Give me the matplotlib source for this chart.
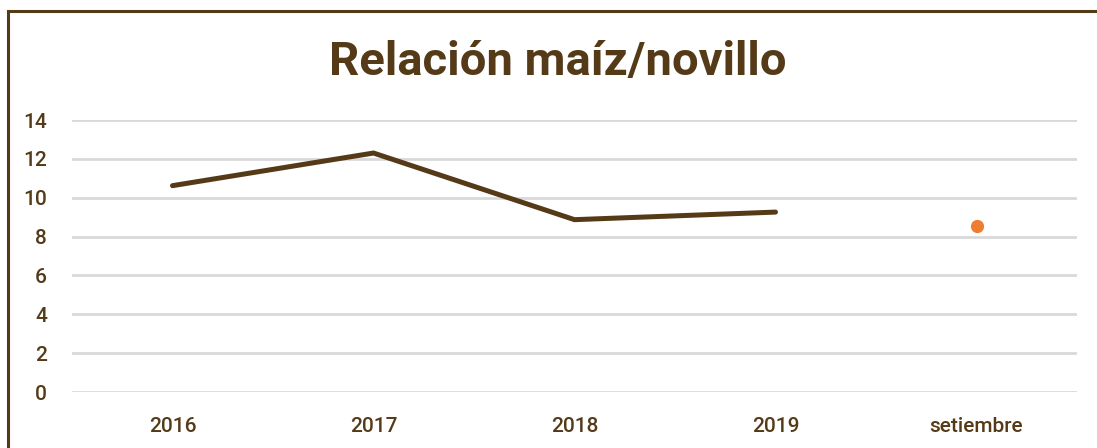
import matplotlib.pyplot as plt
import matplotlib.patches as mpatches
import numpy as np

categories = ['2016', '2017', '2018', '2019', 'setiembre']
annual = [10.62, 12.3, 8.87, 9.26]
setiembre = [8.52]

brown = '#553a18'
orange = '#ed7d31'
grid = '#d9d9d9'

plt.rcParams['font.family'] = ['Roboto', 'DejaVu Sans']

fig = plt.figure(figsize=(10.97, 4.48), dpi=100)
ax = fig.add_axes([72/1097, 1 - 392/448, 1005/1097, (392 - 120)/448])

x = np.arange(len(categories))
ax.plot(x[:len(annual)], annual, color=brown, lw=3.6, solid_capstyle='round',
        solid_joinstyle='miter', clip_on=False, zorder=3)
ax.plot(x[len(annual):], setiembre, 'o', color=orange, ms=8.5, clip_on=False, zorder=3)

ax.set_xlim(-0.5, len(categories) - 0.5)
ax.set_ylim(0, 14)
ax.set_yticks(range(0, 15, 2))
ax.set_xticks(x)
ax.set_xticklabels(categories)
ax.yaxis.grid(True, color=grid, lw=2)
ax.set_axisbelow(True)
for s in ax.spines.values():
    s.set_visible(False)
ax.tick_params(length=0, colors=brown, labelsize=15)
ax.tick_params(axis='y', pad=18)
ax.tick_params(axis='x', pad=18)
for lab in ax.get_xticklabels() + ax.get_yticklabels():
    lab.set_fontweight('medium')

fig.text(558/1097, 1 - 62/448, 'Relación maíz/novillo', ha='center', va='center',
         fontsize=34, fontweight='bold', color=brown)

border = mpatches.Rectangle((8/1097, -0.1), 1.2, 1 - 11/448 + 0.1, transform=fig.transFigure,
                            fill=False, edgecolor=brown, lw=2.2)
fig.patches.append(border)

fig.savefig('out.png', dpi=100)
